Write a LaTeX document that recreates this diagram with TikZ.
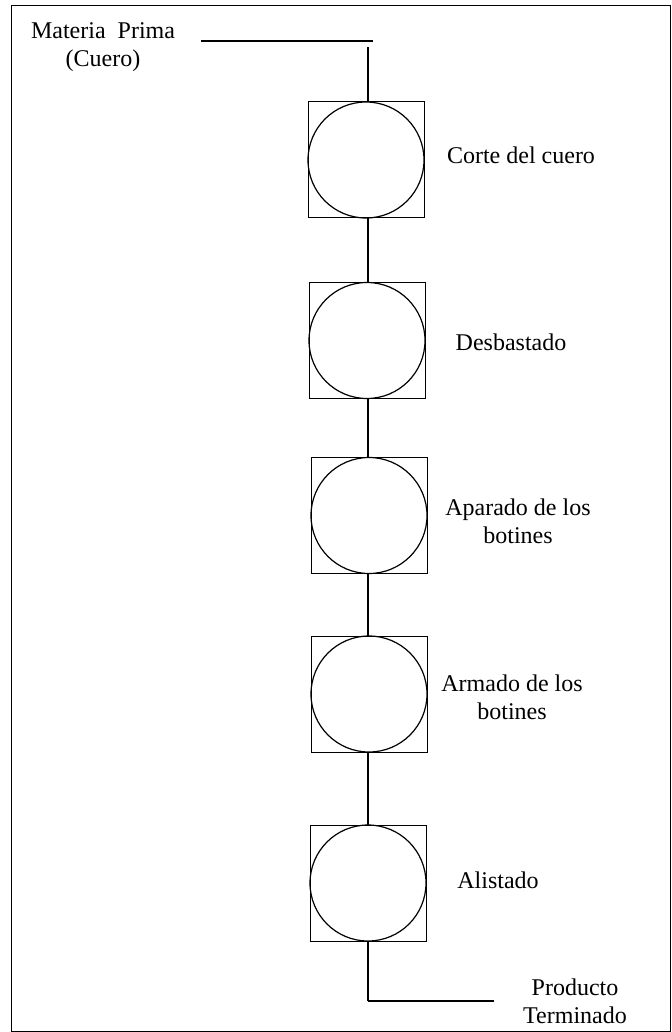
\documentclass[tikz,border=0pt]{standalone}
\usepackage{fontspec}
\setmainfont{Liberation Serif}
\begin{document}
\begin{tikzpicture}[x=0.5pt,y=-0.5pt,
  procbox/.style={draw,line width=0.5pt,rectangle,minimum size=58pt,inner sep=0pt},
  proccirc/.style={draw,line width=0.6pt,circle,minimum size=58pt,inner sep=0pt},
  flow/.style={line width=1.1pt},
  thin/.style={line width=0.8pt},
  lbl/.style={font=\fontsize{12}{13.8}\selectfont,align=center,inner sep=0pt}]
\useasboundingbox (0,0) rectangle (672,1032);
\draw[line width=0.5pt] (11.5,6) rectangle (670.5,1031);
% process boxes
\node[procbox] (b1) at (366,160) {};
\node[proccirc] (c1) at (b1.center) {};
\node[procbox] (b2) at (367,340.5) {};
\node[proccirc] (c2) at (b2.center) {};
\node[procbox] (b3) at (369,515.5) {};
\node[proccirc] (c3) at (b3.center) {};
\node[procbox] (b4) at (369,694) {};
\node[proccirc] (c4) at (b4.center) {};
\node[procbox] (b5) at (368,883) {};
\node[proccirc] (c5) at (b5.center) {};
% labels
\node[lbl] (mp) at (103,47) {Materia\ \ Prima\\(Cuero)};
\node[lbl] (l1) at (521,155) {Corte del cuero};
\node[lbl] (l2) at (511,342) {Desbastado};
\node[lbl] (l3) at (518,521) {Aparado de los\\botines};
\node[lbl] (l4) at (512,697) {Armado de los\\botines};
\node[lbl] (l5) at (498,880) {Alistado};
\node[lbl] (pt) at (575,1001) {Producto\\Terminado};
% connectors
\coordinate (h1) at (201,41);
\coordinate (h2) at (373,41);
\coordinate (v0) at (368,47);
\coordinate (e1) at (368,1001);
\coordinate (e2) at (494,1001);
\draw[thin] (h1) -- (h2);
\draw[flow] (v0) -- (v0 |- b1.north);
\draw[flow] (b1.south -| v0) -- (b2.north -| v0);
\draw[flow] (b2.south -| v0) -- (b3.north -| v0);
\draw[flow] (b3.south -| v0) -- (b4.north -| v0);
\draw[flow] (b4.south -| v0) -- (b5.north -| v0);
\draw[flow] (b5.south -| v0) -- (e1);
\draw[thin] (e1) -- (e2);
\end{tikzpicture}
\end{document}
